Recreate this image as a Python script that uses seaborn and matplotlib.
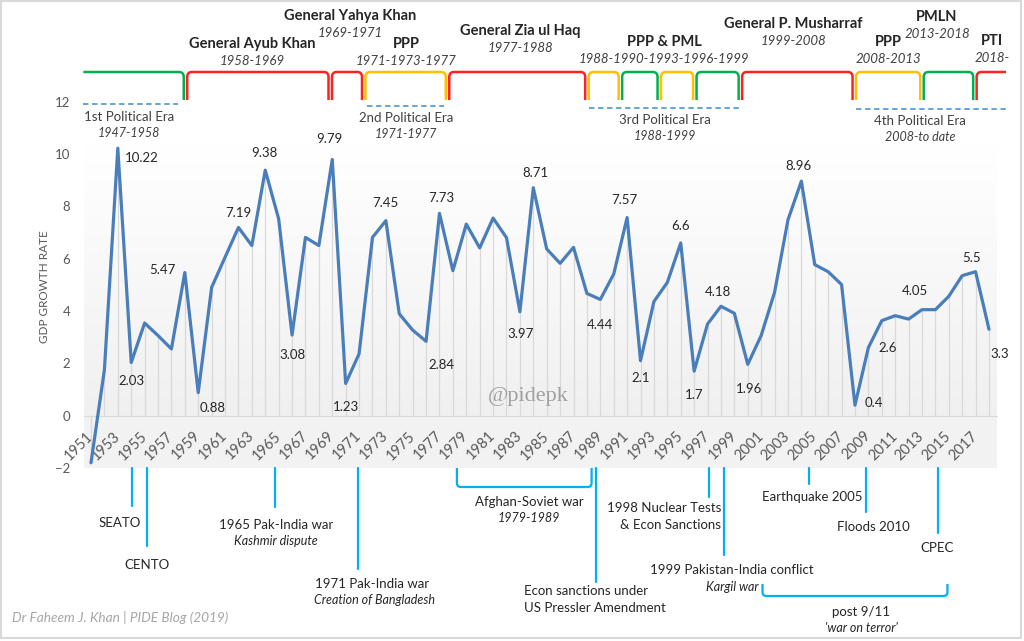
# GDP growth of Pakistan 1951-2018 with political eras and major events
import numpy as np
import pandas as pd
import matplotlib.pyplot as plt
import matplotlib.transforms as mtransforms
from matplotlib.path import Path
from matplotlib.patches import PathPatch, Rectangle
from matplotlib.lines import Line2D
from matplotlib.colors import LinearSegmentedColormap
import seaborn as sns

# ---- data ----
years = list(range(1951, 2019))
gdp_growth = [-1.8, 1.75, 10.22, 2.03, 3.54, 3.06, 2.55, 5.47, 0.88, 4.9,
              6.05, 7.19, 6.5, 9.38, 7.52, 3.08, 6.81, 6.5, 9.79, 1.23,
              2.36, 6.81, 7.45, 3.89, 3.27, 2.84, 7.73, 5.54, 7.32, 6.41,
              7.55, 6.8, 3.97, 8.71, 6.37, 5.82, 6.43, 4.67, 4.44, 5.41,
              7.57, 2.1, 4.36, 5.09, 6.6, 1.7, 3.5, 4.18, 3.91, 1.96,
              3.06, 4.71, 7.48, 8.96, 5.77, 5.5, 5.01, 0.4, 2.6, 3.63,
              3.82, 3.69, 4.05, 4.05, 4.56, 5.35, 5.5, 3.3]
labelled_years = [1953, 1954, 1958, 1959, 1962, 1964, 1966, 1969, 1970, 1973,
                  1976, 1977, 1983, 1984, 1989, 1991, 1992, 1995, 1996, 1998,
                  2000, 2004, 2008, 2009, 2013, 2017, 2018]
tick_years = list(range(1951, 2018, 2))
y_ticks = [-2, 0, 2, 4, 6, 8, 10, 12]

regime_names = ["General Ayub Khan", "General Yahya Khan", "PPP", "General Zia ul Haq",
                "PPP & PML", "General P. Musharraf", "PPP", "PMLN", "PTI"]
regime_periods = ["1958-1969", "1969-1971", "1971-1973-1977", "1977-1988",
                  "1988-1990-1993-1996-1999", "1999-2008", "2008-2013", "2013-2018", "2018-"]
govt_breaks = [1950.3, 1958.05, 1968.85, 1971.35, 1977.6, 1988.0, 1990.5, 1993.4,
               1996.05, 1999.45, 2007.95, 2013.0, 2016.95, 2019.4]
govt_party = ["PML", "military", "military", "PPP", "military", "PPP", "PML", "PPP",
              "PML", "military", "PPP", "PML", "PTI"]

era_names = ["1st Political Era", "2nd Political Era", "3rd Political Era", "4th Political Era"]
era_periods = ["1947-1958", "1971-1977", "1988-1999", "2008-to date"]

# ---- style ----
sns.set_style("white")
plt.rcParams['font.family'] = ['Lato', 'DejaVu Sans']

party_color = {"PML": "#00b050", "military": "#ff2020", "PPP": "#ffc000", "PTI": "#ff2020"}
txt_col = "#262626"
evt_col = "#00b0f0"

fig = plt.figure(figsize=(10.24, 6.41), dpi=100)
ax = fig.add_axes([84 / 1024, (641 - 468) / 641, 913 / 1024, 366.4 / 641])
fig_px = mtransforms.Affine2D().scale(1 / 1024, -1 / 641).translate(0, 1) + fig.transFigure
blend = mtransforms.blended_transform_factory(ax.transData, fig_px)

x0, x1 = 1951 - 7 / 13.4, 2018 + 8 / 13.4
ax.set_xlim(x0, x1)
ax.set_ylim(-2, 12)
ax.set_facecolor("none")

# plot-area background: gradient above zero, flat band below
grad = np.linspace(1, 0, 256).reshape(-1, 1)
cmap = LinearSegmentedColormap.from_list("bg", ["#f0f0f0", "#ffffff"])
ax.imshow(grad, extent=[x0, x1, 0, 10.39], aspect="auto", cmap=cmap, origin="upper",
          zorder=0, vmin=0, vmax=1)
ax.axhspan(-2, 0, color="#f2f2f2", zorder=0, lw=0)

df = pd.DataFrame({"year": years, "growth": gdp_growth})
ax.vlines(df["year"], 0, df["growth"], color="#d9d9d9", lw=0.9, zorder=1)
sns.lineplot(data=df, x="year", y="growth", ax=ax, color="#4a7ebb", lw=2.3, zorder=3)

for s in ["top", "right", "left"]:
    ax.spines[s].set_visible(False)
ax.spines["bottom"].set_position(("data", 0))
ax.spines["bottom"].set_color("#d9d9d9")
ax.set_xticks(tick_years)
ax.set_xticklabels([str(y) for y in tick_years])
ax.set_yticks(y_ticks)
ax.tick_params(axis="both", length=0, labelsize=9.5, colors="#595959")
ax.tick_params(axis="y", pad=10)
ax.tick_params(axis="x", pad=13, labelsize=10.5)
plt.setp(ax.get_xticklabels(), rotation=45, ha="right", va="center", rotation_mode="anchor")
ax.set_xlabel("")
ax.set_ylabel("")

# data labels
label_offsets = [(24, -10), (0, -18), (-22, 2), (14, -15), (0, 14), (-1, 17), (0, -20),
                 (-3, 20), (0, -24), (0, 18), (15, -24), (2, 15), (1, -22), (2, 15),
                 (0, -26), (-3, 18), (0, -17), (0, 17), (0, -24), (-3, 14), (1, -25),
                 (-3, 15), (19, 2), (19, 0), (-7, 19), (-4, 14), (11, -25)]
for yr, (dx, dy) in zip(labelled_years, label_offsets):
    v = df.loc[df["year"] == yr, "growth"].iloc[0]
    ax.annotate(f"{v:g}", (yr, v), xytext=(dx, dy), textcoords="offset pixels",
                ha="center", va="center", fontsize=9.5, color=txt_col, zorder=4)

fig.text(44 / 1024, 1 - 287 / 641, "GDP GROWTH RATE", rotation=90, ha="center",
         va="center", fontsize=8.5, color="#595959")
fig.text(528 / 1024, 1 - 396 / 641, "@pidepk", ha="center", va="center",
         fontsize=16, color="#a0a0a0", family="Liberation Serif")


def ftxt(x, y, s, **kw):
    kw.setdefault("ha", "center")
    kw.setdefault("color", txt_col)
    kw.setdefault("fontsize", 9.5)
    fig.text(x, y, s, transform=fig_px, va="center", **kw)


# ---- government brackets on top ----
def bracket(xa, xb, ytop, ybot, color, left=True, right=True, r=0.35, ry=5, tr=blend, lw=1.8):
    verts, codes = [], []
    if left:
        verts += [(xa, ybot), (xa, ytop + ry), (xa, ytop), (xa + r, ytop)]
        codes += [Path.MOVETO, Path.LINETO, Path.CURVE3, Path.CURVE3]
    else:
        verts += [(xa, ytop)]
        codes += [Path.MOVETO]
    if right:
        verts += [(xb - r, ytop), (xb, ytop), (xb, ytop + ry), (xb, ybot)]
        codes += [Path.LINETO, Path.CURVE3, Path.CURVE3, Path.LINETO]
    else:
        verts += [(xb, ytop)]
        codes += [Path.LINETO]
    ax.add_patch(PathPatch(Path(verts, codes), transform=tr, fill=False,
                           edgecolor=color, lw=lw, clip_on=False))


gap = 0.13
n = len(govt_party)
for i, party in enumerate(govt_party):
    bracket(govt_breaks[i] + gap, govt_breaks[i + 1] - gap, 72, 100,
            party_color[party], left=i > 0, right=i < n - 1)

header_xy = [(252, 44), (350, 16), (406, 44), (520, 31), (664, 42), (793, 24),
             (888, 42), (937, 17), (992, 41)]
for name, period, (hx, hy) in zip(regime_names, regime_periods, header_xy):
    ftxt(hx, hy, name, fontweight="bold", fontsize=10.5)
    ftxt(hx, hy + 17, period, style="italic", fontsize=9.5, color="#404040")

# political eras (dashed)
era_lines = [(83, 178, 104), (367, 444, 106), (589, 739, 108), (856, 1006, 109)]
era_xy = [(129, 117), (406, 118), (665, 120), (920, 121)]
for name, period, (ea, eb, ey), (tx, ty) in zip(era_names, era_periods, era_lines, era_xy):
    fig.add_artist(Line2D([ea, eb], [ey, ey], transform=fig_px, color="#5b9bd5",
                          lw=1.3, ls=(0, (3, 2))))
    ftxt(tx, ty, name, color="#404040")
    ftxt(tx, ty + 16, period, style="italic", color="#404040", fontsize=9)

# ---- events below the axis ----
event_lines = [(1954.05, 506), (1955.2, 546), (1964.7, 507), (1970.9, 569),
               (1988.7, 582), (1997.1, 497), (1998.2, 555), (2004.6, 484),
               (2008.8, 512), (2014.2, 533)]
for ex, ey in event_lines:
    ax.add_line(Line2D([ex, ex], [468, ey], transform=blend, color=evt_col, lw=1.6,
                       clip_on=False))

# Afghan-Soviet war (bracket opening upward) and post 9/11
def ubracket(xa, xb, ytop, ybot):
    verts = [(xa, ytop), (xa, ybot - 4), (xa, ybot), (xa + 0.3, ybot),
             (xb - 0.3, ybot), (xb, ybot), (xb, ybot - 4), (xb, ytop)]
    codes = [Path.MOVETO, Path.LINETO, Path.CURVE3, Path.CURVE3,
             Path.LINETO, Path.CURVE3, Path.CURVE3, Path.LINETO]
    ax.add_patch(PathPatch(Path(verts, codes), transform=blend, fill=False,
                           edgecolor=evt_col, lw=1.6, clip_on=False))


ubracket(1978.3, 1988.35, 468, 487)
ubracket(2001.1, 2014.9, 584, 596)

ftxt(120, 523, "SEATO")
ftxt(147, 565, "CENTO")
ftxt(276, 525, "1965 Pak-India war")
ftxt(276, 541, "Kashmir dispute", style="italic", fontsize=9)
ftxt(372, 584, "1971 Pak-India war")
ftxt(374, 600, "Creation of Bangladesh", style="italic", fontsize=9)
ftxt(529, 502, "Afghan-Soviet war")
ftxt(529, 518, "1979-1989", style="italic", fontsize=9)
ftxt(524, 591, "Econ sanctions under", ha="left")
ftxt(524, 608, "US Pressler Amendment", ha="left")
ftxt(721, 508, "1998 Nuclear Tests", ha="right")
ftxt(721, 525, "& Econ Sanctions", ha="right")
ftxt(732, 570, "1999 Pakistan-India conflict")
ftxt(759, 587, "Kargil war", ha="right", style="italic", fontsize=9)
ftxt(812, 497, "Earthquake 2005")
ftxt(873, 527, "Floods 2010")
ftxt(937, 548, "CPEC")
ftxt(861, 612, "post 9/11")
ftxt(861, 628, "'war on terror'", style="italic", fontsize=9)

ftxt(12, 618, "Dr Faheem J. Khan | PIDE Blog (2019)", ha="left", style="italic",
     color="#a6a6a6", fontsize=9.8)

fig.add_artist(Rectangle((1, 1), 1020, 637, transform=fig_px, fill=False,
                         edgecolor="#d9d9d9", lw=1.5))

fig.savefig("out.png", dpi=100)
